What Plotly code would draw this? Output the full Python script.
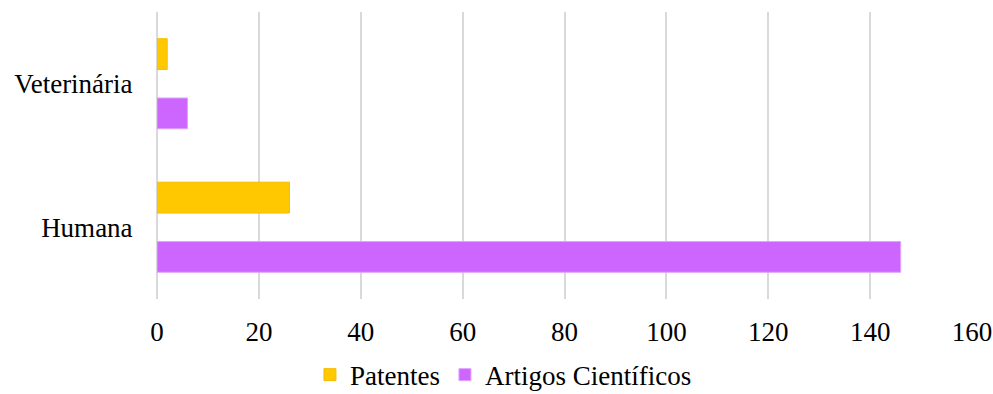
import plotly.graph_objects as go

categorias = ["Humana", "Veterinária"]
patentes = [26, 2]
artigos = [146, 6]
ticks_x = [0, 20, 40, 60, 80, 100, 120, 140, 160]

FONT = "Liberation Serif, Times New Roman, serif"
SIZE = 27

fig = go.Figure()
fig.add_trace(go.Bar(
    y=categorias, x=artigos, orientation="h", name="Artigos Científicos",
    marker=dict(color="#CC66FF", line=dict(color="#E0A3FF", width=1)),
    legendrank=2,
))
fig.add_trace(go.Bar(
    y=categorias, x=patentes, orientation="h", name="Patentes",
    marker=dict(color="#FFC800", line=dict(color="#F5BD00", width=1)),
    legendrank=1,
))

fig.update_layout(
    width=993, height=394,
    margin=dict(l=157, r=21, t=12, b=95, autoexpand=False),
    barmode="group", bargap=0.174, bargroupgap=0.48,
    plot_bgcolor="white", paper_bgcolor="white",
    font=dict(family=FONT, size=SIZE, color="#000000"),
    legend=dict(orientation="h", x=0.507, xanchor="center", xref="container",
                y=0.048, yanchor="middle", yref="container",
                font=dict(family=FONT, size=SIZE, color="#000000"),
                itemwidth=30, traceorder="normal"),
    xaxis=dict(range=[0, 160], tickvals=ticks_x, showgrid=True, automargin=False,
               gridcolor="#D9D9D9", gridwidth=1.5, zeroline=True,
               zerolinecolor="#D9D9D9", zerolinewidth=2, showline=False,
               ticks="outside", ticklen=9, tickcolor="rgba(0,0,0,0)",
               tickfont=dict(family=FONT, size=SIZE)),
    yaxis=dict(categoryorder="array", categoryarray=categorias, automargin=False,
               range=[-0.5, 1.5], showgrid=False, zeroline=False,
               ticks="outside", ticklen=18, tickcolor="rgba(0,0,0,0)",
               tickfont=dict(family=FONT, size=SIZE)),
)

fig.write_html("out.html")
